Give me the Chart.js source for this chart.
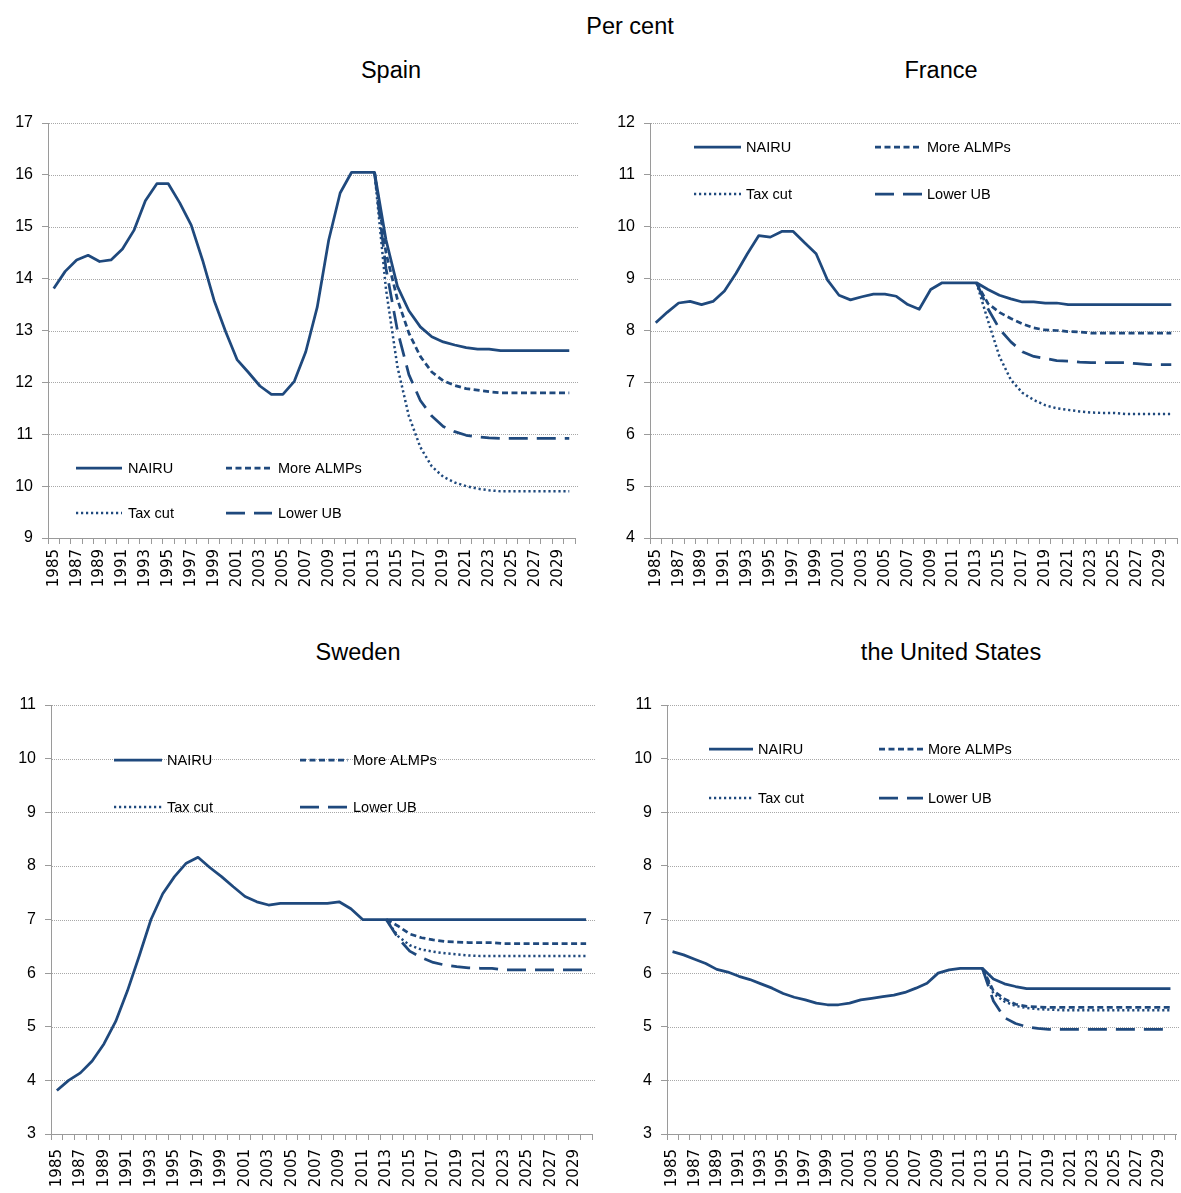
<!DOCTYPE html>
<html>
<head>
<meta charset="utf-8">
<script src="https://cdn.jsdelivr.net/npm/chart.js@4/dist/chart.umd.min.js"></script>
<style>
  html, body { margin: 0; padding: 0; background: #fff; }
  body { width: 1181px; height: 1193px; position: relative; overflow: hidden; font-family: 'Liberation Sans', Arial, sans-serif; }
  .ttl { position: absolute; transform: translate(-50%, -50%); font-size: 23.5px; color: #000; white-space: nowrap; }
  canvas { position: absolute; }
</style>
</head>
<body>
<div class="ttl" style="left:630px;top:26px">Per cent</div>
<div class="ttl" style="left:391px;top:70px">Spain</div>
<div class="ttl" style="left:941px;top:70px">France</div>
<div class="ttl" style="left:358px;top:652px">Sweden</div>
<div class="ttl" style="left:951px;top:652px">the United States</div>
<canvas id="c_es"></canvas>
<canvas id="c_fr"></canvas>
<canvas id="c_se"></canvas>
<canvas id="c_us"></canvas>
<script>
// ---------------- DATA ----------------
const years = [1985,1986,1987,1988,1989,1990,1991,1992,1993,1994,1995,1996,1997,1998,1999,
  2000,2001,2002,2003,2004,2005,2006,2007,2008,2009,2010,2011,2012,2013,2014,2015,2016,2017,
  2018,2019,2020,2021,2022,2023,2024,2025,2026,2027,2028,2029,2030];
const seriesNames = ["NAIRU", "More ALMPs", "Tax cut", "Lower UB"];

// Spain
const spainNairu = [13.81,14.14,14.36,14.45,14.33,14.36,14.57,14.93,15.50,15.83,15.83,15.46,15.03,14.35,13.58,
  12.98,12.44,12.19,11.93,11.77,11.77,12.02,12.59,13.45,14.74,15.65,16.05,16.05,16.05,14.75,13.85,13.38,13.07,
  12.88,12.78,12.72,12.67,12.64,12.64,12.61,12.61,12.61,12.61,12.61,12.61,12.61];
// scenario series, 2013 onwards
const spainAlmp = [16.05,14.50,13.60,12.95,12.50,12.20,12.03,11.94,11.88,11.85,11.82,11.80,11.80,11.80,11.80,11.80,11.80,11.80];
const spainTax  = [16.05,13.80,12.30,11.35,10.75,10.38,10.18,10.07,10.00,9.95,9.92,9.90,9.90,9.90,9.90,9.90,9.90,9.90];
const spainUb   = [16.05,14.20,13.00,12.15,11.65,11.35,11.15,11.05,10.98,10.95,10.93,10.92,10.92,10.92,10.92,10.92,10.92,10.92];

// France
const franceNairu = [8.15,8.35,8.53,8.56,8.50,8.56,8.76,9.10,9.48,9.83,9.80,9.91,9.91,9.69,9.48,
  8.97,8.68,8.59,8.65,8.70,8.70,8.66,8.50,8.41,8.79,8.92,8.92,8.92,8.92,8.79,8.68,8.61,8.55,
  8.55,8.53,8.53,8.50,8.50,8.50,8.50,8.50,8.50,8.50,8.50,8.50,8.50];
const franceAlmp = [8.92,8.52,8.35,8.23,8.13,8.05,8.01,8.00,7.98,7.97,7.95,7.95,7.95,7.95,7.95,7.95,7.95,7.95];
const franceTax  = [8.92,8.19,7.50,7.05,6.80,6.66,6.56,6.50,6.47,6.44,6.42,6.41,6.41,6.39,6.39,6.39,6.39,6.39];
const franceUb   = [8.92,8.42,8.03,7.78,7.59,7.50,7.46,7.42,7.41,7.39,7.38,7.38,7.38,7.38,7.36,7.34,7.34,7.34];

// Sweden
const swedenNairu = [3.81,4.00,4.14,4.36,4.68,5.10,5.67,6.32,7.00,7.48,7.80,8.05,8.16,7.97,7.80,
  7.61,7.43,7.33,7.27,7.30,7.30,7.30,7.30,7.30,7.33,7.20,7.00,7.00,7.00,7.00,7.00,7.00,7.00,
  7.00,7.00,7.00,7.00,7.00,7.00,7.00,7.00,7.00,7.00,7.00,7.00,7.00];
const swedenAlmp = [7.00,6.88,6.73,6.66,6.62,6.59,6.58,6.57,6.57,6.57,6.55,6.55,6.55,6.55,6.55,6.55,6.55,6.55];
const swedenTax  = [7.00,6.69,6.52,6.44,6.40,6.37,6.35,6.33,6.32,6.32,6.32,6.32,6.32,6.32,6.32,6.32,6.32,6.32];
const swedenUb   = [7.00,6.66,6.41,6.29,6.20,6.15,6.12,6.10,6.09,6.09,6.06,6.06,6.06,6.06,6.06,6.06,6.06,6.06];

// United States
const usNairu = [6.40,6.34,6.26,6.18,6.07,6.02,5.94,5.88,5.80,5.72,5.62,5.55,5.50,5.44,5.41,
  5.41,5.44,5.50,5.53,5.56,5.59,5.64,5.72,5.81,6.00,6.06,6.09,6.09,6.09,5.89,5.80,5.75,5.71,
  5.71,5.71,5.71,5.71,5.71,5.71,5.71,5.71,5.71,5.71,5.71,5.71,5.71];
const usAlmp = [6.09,5.67,5.52,5.42,5.38,5.37,5.36,5.36,5.36,5.36,5.36,5.36,5.36,5.36,5.36,5.36,5.36,5.36];
const usTax  = [6.09,5.62,5.47,5.39,5.35,5.33,5.32,5.31,5.31,5.31,5.31,5.31,5.31,5.31,5.31,5.31,5.31,5.31];
const usUb   = [6.09,5.48,5.17,5.06,5.00,4.97,4.95,4.95,4.95,4.95,4.95,4.95,4.95,4.95,4.95,4.95,4.95,4.95];

// ---------------- STYLE / LAYOUT ----------------
const BLUE = '#1f497d';
const AXIS = '#9a9a9a';
const scenarioStart = years.indexOf(2013);
const pad = arr => new Array(scenarioStart).fill(null).concat(arr);

const lineStyles = [
  { borderWidth: 2.75, borderDash: [] },
  { borderWidth: 2.75, borderDash: [6, 3.5] },
  { borderWidth: 2.5, borderDash: [2.2, 2.8] },
  { borderWidth: 2.75, borderDash: [19, 9] }
];

const panels = [
  { id: 'c_es', yMin: 9, yMax: 17, data: [spainNairu, pad(spainAlmp), pad(spainTax), pad(spainUb)],
    area: { left: 48, top: 123, right: 575, bottom: 538 }, labPad: 5,
    legend: { c1: 76, c2: 226, len: 46, gap: 6, r1: 468, r2: 513 } },
  { id: 'c_fr', yMin: 4, yMax: 12, data: [franceNairu, pad(franceAlmp), pad(franceTax), pad(franceUb)],
    area: { left: 650, top: 123, right: 1177, bottom: 538 }, labPad: 5,
    legend: { c1: 694, c2: 875, len: 47, gap: 5, r1: 147, r2: 194 } },
  { id: 'c_se', yMin: 3, yMax: 11, data: [swedenNairu, pad(swedenAlmp), pad(swedenTax), pad(swedenUb)],
    area: { left: 51, top: 705, right: 592, bottom: 1134 }, labPad: 9,
    legend: { c1: 114, c2: 300, len: 48, gap: 5, r1: 760, r2: 807 } },
  { id: 'c_us', yMin: 3, yMax: 11, data: [usNairu, pad(usAlmp), pad(usTax), pad(usUb)],
    area: { left: 667, top: 705, right: 1176, bottom: 1134 }, labPad: 9,
    legend: { c1: 709, c2: 879, len: 44, gap: 5, r1: 749, r2: 798 } }
];

const Y_AXIS_W = 48, X_AXIS_H = 62, PAD_TOP = 10, PAD_RIGHT = 4;

const dottedGrid = {
  id: 'dottedGrid',
  beforeDatasetsDraw(chart) {
    const { ctx, chartArea, scales } = chart;
    const y = scales.y;
    ctx.save();
    ctx.strokeStyle = '#a8a8a8';
    ctx.lineWidth = 1;
    ctx.setLineDash([1, 1]);
    y.ticks.forEach(t => {
      if (t.value === y.min) return;
      const py = Math.round(y.getPixelForValue(t.value)) + 0.5;
      ctx.beginPath();
      ctx.moveTo(chartArea.left + 1, py);
      ctx.lineTo(chart.width, py);
      ctx.stroke();
    });
    ctx.restore();
  }
};

const boxLegend = {
  id: 'boxLegend',
  afterDatasetsDraw(chart, args, opts) {
    const { ctx } = chart;
    const L = opts.spec, ox = opts.ox, oy = opts.oy;
    chart.data.datasets.forEach((ds, i) => {
      const x0 = (i % 2 === 0 ? L.c1 : L.c2) - ox;
      const yy = (i < 2 ? L.r1 : L.r2) - oy;
      ctx.save();
      ctx.strokeStyle = ds.borderColor;
      ctx.lineWidth = ds.borderWidth;
      ctx.setLineDash(ds.borderDash || []);
      ctx.beginPath();
      ctx.moveTo(x0, yy);
      ctx.lineTo(x0 + L.len, yy);
      ctx.stroke();
      ctx.setLineDash([]);
      ctx.fillStyle = '#000';
      ctx.font = '14.5px "Liberation Sans", Arial, sans-serif';
      ctx.textBaseline = 'middle';
      ctx.textAlign = 'left';
      ctx.fillText(ds.label, x0 + L.len + L.gap, yy + 1);
      ctx.restore();
    });
  }
};

panels.forEach(p => {
  const cv = document.getElementById(p.id);
  const left = p.area.left - Y_AXIS_W;
  const top = p.area.top - PAD_TOP;
  const w = Math.min(p.area.right + PAD_RIGHT, 1181) - left;
  const h = (p.area.bottom - p.area.top) + PAD_TOP + X_AXIS_H;
  cv.style.left = left + 'px';
  cv.style.top = top + 'px';
  cv.width = w; cv.height = h;
  cv.style.width = w + 'px'; cv.style.height = h + 'px';
  const padRight = w - (p.area.right - left);

  new Chart(cv, {
    type: 'line',
    data: {
      labels: years.map(String),
      datasets: seriesNames.map((name, i) => ({
        label: name,
        data: p.data[i],
        borderColor: BLUE,
        backgroundColor: BLUE,
        borderWidth: lineStyles[i].borderWidth,
        borderDash: lineStyles[i].borderDash,
        borderCapStyle: 'butt',
        borderJoinStyle: 'round',
        pointRadius: 0,
        pointHoverRadius: 0,
        tension: 0,
        fill: false,
        spanGaps: false
      }))
    },
    options: {
      responsive: false,
      animation: false,
      devicePixelRatio: 1,
      layout: { padding: { top: PAD_TOP, right: padRight, left: 0, bottom: 0 } },
      plugins: {
        legend: { display: false },
        tooltip: { enabled: false },
        title: { display: false },
        boxLegend: { spec: p.legend, ox: left, oy: top }
      },
      scales: {
        x: {
          type: 'category',
          offset: true,
          grid: { display: true, offset: true, drawOnChartArea: false, drawTicks: true, tickLength: 6, color: AXIS, lineWidth: 1 },
          border: { display: true, color: AXIS, width: 1 },
          ticks: {
            autoSkip: false, maxRotation: 90, minRotation: 90, padding: p.labPad,
            color: '#000',
            font: { family: '"DejaVu Sans", Verdana, sans-serif', size: 15 },
            callback: function (v, idx) { return idx % 2 === 0 ? this.getLabelForValue(v) : ''; }
          },
          afterFit: s => { s.height = X_AXIS_H; s.paddingLeft = 0; s.paddingRight = 0; }
        },
        y: {
          min: p.yMin, max: p.yMax,
          grid: { display: true, drawOnChartArea: false, drawTicks: true, tickLength: 6, color: AXIS, lineWidth: 1 },
          border: { display: true, color: AXIS, width: 1 },
          ticks: {
            stepSize: 1, padding: 9, color: '#000',
            font: { family: '"Liberation Sans", Arial, sans-serif', size: 16 }
          },
          afterFit: s => { s.width = Y_AXIS_W; s.paddingTop = 0; s.paddingBottom = 0; }
        }
      }
    },
    plugins: [dottedGrid, boxLegend]
  });
});
</script>
</body>
</html>
